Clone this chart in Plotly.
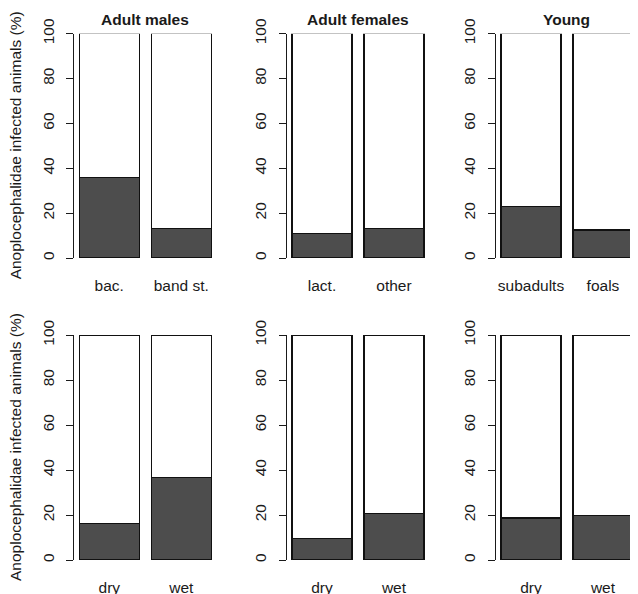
import plotly.graph_objects as go

# ---- data ----
panel_titles = ["Adult males", "Adult females", "Young"]
top_categories = [["bac.", "band st."], ["lact.", "other"], ["subadults", "foals"]]
top_values = [[36.0, 13.0], [11.0, 13.0], [23.0, 12.5]]
bottom_categories = [["dry", "wet"], ["dry", "wet"], ["dry", "wet"]]
bottom_values = [[16.3, 36.6], [9.6, 20.7], [18.7, 19.9]]
y_title = "Anoplocephalidae infected animals (%)"
y_ticks = [0, 20, 40, 60, 80, 100]

# page has an 8px body margin; figure is placed at (8, 8)
OFF = 8
W, H = 638 - OFF, 594 - OFF
FONT = "Liberation Sans, Arial, Helvetica, sans-serif"
DARK = "#4d4d4d"
INK = "#1a1a1a"

bar_x = [0.7, 1.9]
px_per_unit = 60.0
x_lo = 0.112
panel_left_px = [74.0 - OFF, 286.7 - OFF, 495.7 - OFF]
panel_w_px = 142.6
rows_px = [(33.7 - OFF, 258.0 - OFF), (335.0 - OFF, 560.0 - OFF)]  # (y of 100, y of 0)

fig = go.Figure()
layout = {}

rows = [(top_categories, top_values), (bottom_categories, bottom_values)]
idx = 0
for r, (cats, vals) in enumerate(rows):
    y100, y0 = rows_px[r]
    for c in range(3):
        idx += 1
        xa = "x" if idx == 1 else f"x{idx}"
        ya = "y" if idx == 1 else f"y{idx}"
        v = vals[c]
        fig.add_trace(go.Bar(
            x=bar_x, y=v, width=1.0, xaxis=xa, yaxis=ya,
            marker=dict(color=DARK, line=dict(color="#111111", width=1.2)),
            cliponaxis=False, showlegend=False, hoverinfo="skip"))
        fig.add_trace(go.Bar(
            x=bar_x, y=[100 - a for a in v], width=1.0, xaxis=xa, yaxis=ya,
            marker=dict(color="white", line=dict(color="#111111", width=1.2)),
            cliponaxis=False, showlegend=False, hoverinfo="skip"))
        left = panel_left_px[c]
        right = min(left + panel_w_px, W)
        x_hi = x_lo + (right - left) / px_per_unit
        layout["xaxis" if idx == 1 else f"xaxis{idx}"] = dict(
            domain=[left / W, right / W], range=[x_lo, x_hi],
            anchor=ya, tickvals=bar_x, ticktext=cats[c],
            showline=False, showgrid=False, zeroline=False, ticks="",
            ticklabelstandoff=16,
            tickfont=dict(family=FONT, size=15.5, color=INK))
        layout["yaxis" if idx == 1 else f"yaxis{idx}"] = dict(
            domain=[(H - y0) / H, (H - y100) / H], range=[0, 100],
            anchor=xa, tickvals=y_ticks, showline=True, linecolor=INK,
            linewidth=1.2, ticks="outside", ticklen=7, tickwidth=1.2,
            tickcolor=INK, tickangle=-90, showgrid=False, zeroline=False,
            ticklabelstandoff=6,
            tickfont=dict(family=FONT, size=15.5, color=INK))

annotations = []
for c in range(3):
    xa = "x" if c == 0 else f"x{c+1}"
    annotations.append(dict(
        text=f"<b>{panel_titles[c]}</b>", xref=xa, yref="paper",
        x=1.3, y=1 - (20 - OFF) / H, showarrow=False, xanchor="center", yanchor="middle",
        font=dict(family=FONT, size=15.5, color=INK)))
for r in range(2):
    y100, y0 = rows_px[r]
    cy = (y100 + y0) / 2
    annotations.append(dict(
        text=y_title, xref="paper", yref="paper", x=(15.5 - OFF) / W, y=1 - cy / H,
        textangle=-90, showarrow=False, xanchor="center", yanchor="middle",
        font=dict(family=FONT, size=15.5, color=INK)))

fig.update_layout(
    **layout,
    annotations=annotations,
    barmode="stack",
    width=W, height=H,
    margin=dict(l=0, r=0, t=0, b=0, autoexpand=False),
    paper_bgcolor="white", plot_bgcolor="white",
)
fig.write_html("out.html")
